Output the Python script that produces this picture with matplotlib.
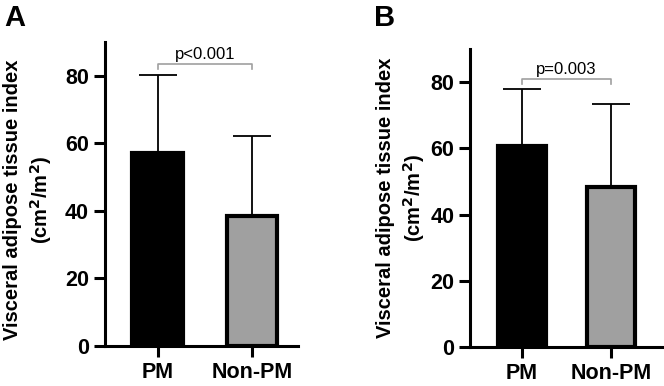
import matplotlib
matplotlib.use("Agg")
import matplotlib.pyplot as plt

groups = ["PM", "Non-PM"]
mean_a = [57.0, 38.6]
sd_a = [23.3, 23.6]
mean_b = [60.6, 48.2]
sd_b = [17.2, 25.2]
p_a = "p<0.001"
p_b = "p=0.003"
bar_colors = ["black", "#a0a0a0"]

plt.rcParams["font.family"] = ["Liberation Sans", "DejaVu Sans"]

fig = plt.figure(figsize=(6.64, 3.86), dpi=100)


def panel(rect, means, sds, ptxt, br_y, xlim, letter, letter_xy, lab_xy):
    ax = fig.add_axes(rect)
    x = [0, 1]
    ax.bar(x, means, width=0.54, color=bar_colors, edgecolor="black", linewidth=3, zorder=2)
    ax.errorbar(x, means, yerr=[[0, 0], sds], fmt="none", ecolor="black",
                elinewidth=1.3, capsize=14, capthick=1.3, zorder=1)
    # significance bracket
    ax.plot([0, 0, 1, 1], [br_y - 1.4, br_y, br_y, br_y - 1.4], color="#a0a0a0", lw=1.2,
            clip_on=False)
    ax.text(0.5, br_y + 0.8, ptxt, ha="center", va="bottom", fontsize=12)
    ax.set_xlim(*xlim)
    ax.set_ylim(0, 90)
    ax.set_yticks([0, 20, 40, 60, 80])
    ax.set_xticks(x)
    ax.set_xticklabels(groups)
    for s in ["top", "right"]:
        ax.spines[s].set_visible(False)
    for s in ["left", "bottom"]:
        ax.spines[s].set_linewidth(2.2)
    ax.tick_params(width=2.2, length=8, labelsize=15.5)
    for lab in ax.get_xticklabels() + ax.get_yticklabels():
        lab.set_fontweight("bold")
    ax.set_ylabel("Visceral adipose tissue index\n(cm$^\\mathbf{2}$/m$^\\mathbf{2}$)",
                  fontsize=14.5, fontweight="bold", linespacing=1.3, va="center")
    ax.yaxis.set_label_coords(*lab_xy)
    fig.text(letter_xy[0], letter_xy[1], letter, fontsize=21, fontweight="bold",
             ha="left", va="top")
    return ax


panel([0.158, 0.104, 0.291, 0.787], mean_a, sd_a, p_a, 83.4, (-0.56, 1.49), "A",
      (0.006, 0.99), (-0.395, 0.48))
panel([0.708, 0.101, 0.29, 0.772], mean_b, sd_b, p_b, 80.8, (-0.58, 1.58), "B",
      (0.564, 0.99), (-0.355, 0.50))

fig.savefig("out.png", dpi=100)
